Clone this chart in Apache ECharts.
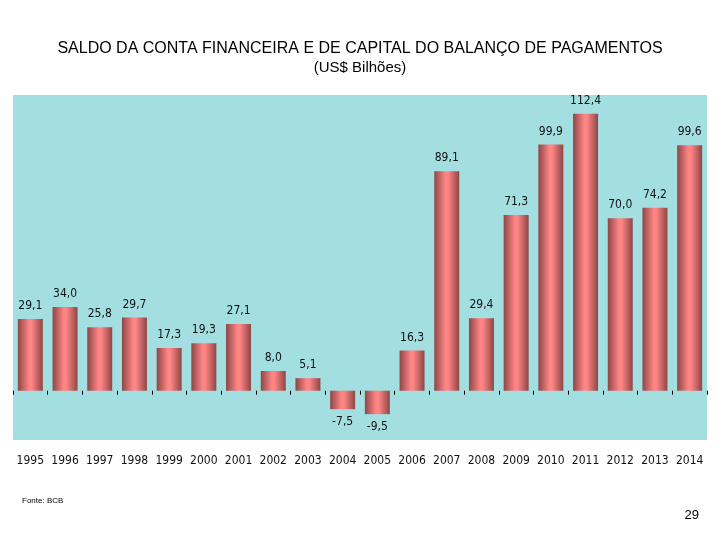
<!DOCTYPE html>
<html>
<head>
<meta charset="utf-8">
<script src="https://cdn.jsdelivr.net/npm/echarts@6/dist/echarts.min.js"></script>
<style>
html,body{margin:0;padding:0;background:#fff;}
#c{width:720px;height:540px;}
</style>
</head>
<body>
<div id="c"></div>
<script>
const years = ['1995','1996','1997','1998','1999','2000','2001','2002','2003','2004','2005','2006','2007','2008','2009','2010','2011','2012','2013','2014'];
const saldo = [29.1,34.0,25.8,29.7,17.3,19.3,27.1,8.0,5.1,-7.5,-9.5,16.3,89.1,29.4,71.3,99.9,112.4,70.0,74.2,99.6];
const titleText = 'SALDO DA CONTA FINANCEIRA E DE CAPITAL DO BALANÇO DE PAGAMENTOS';
const subtitleText = '(US$ Bilhões)';
const sourceText = 'Fonte: BCB';
const pageText = '29';

const narrow = '"DejaVu Sans Condensed", "Liberation Sans Narrow", "Liberation Sans", sans-serif';
const sans = '"Liberation Sans", Arial, sans-serif';
const chart = echarts.init(document.getElementById('c'));
const barColor = new echarts.graphic.LinearGradient(0,0,1,0,[
  {offset:0,color:'#8e4646'},
  {offset:0.45,color:'#ff8585'},
  {offset:0.55,color:'#ff8585'},
  {offset:1,color:'#8e4646'}
]);
chart.setOption({
  animation:false,
  backgroundColor:'#ffffff',
  title:[
    {text:titleText, left:'center', top:36, itemGap:3,
     textStyle:{fontFamily:sans, fontSize:16, fontWeight:'normal', color:'#000'},
     subtext:subtitleText,
     subtextStyle:{fontFamily:sans, fontSize:15, color:'#000'}},
    {text:sourceText, left:17, top:492,
     textStyle:{fontFamily:sans, fontSize:8, fontWeight:'normal', color:'#000'}},
    {text:pageText, right:16, top:504,
     textStyle:{fontFamily:sans, fontSize:13, fontWeight:'normal', color:'#000'}}
  ],
  grid:{left:13, right:13, top:95, bottom:100, show:true, backgroundColor:'#a3dfe0', borderWidth:0},
  xAxis:[
    {type:'category', data:years, position:'bottom',
     axisLine:{onZero:true, lineStyle:{color:'#a3dfe0'}},
     axisTick:{show:true, inside:false, length:4, interval:0, lineStyle:{color:'#000'}},
     axisLabel:{show:false}},
    {type:'category', data:years, position:'bottom',
     axisLine:{show:false, onZero:false}, axisTick:{show:false},
     axisLabel:{show:true, interval:0, margin:15, fontFamily:narrow, fontSize:12, color:'#111'}}
  ],
  yAxis:{type:'value', min:-20, max:120, show:false, splitLine:{show:false}},
  series:[{
    type:'bar', xAxisIndex:0, barWidth:'72%',
    data:saldo.map(v=>({value:v, label:{position: v<0 ? 'bottom' : 'top'}})),
    itemStyle:{color:barColor},
    label:{show:true, distance:7, fontFamily:narrow, fontSize:12, color:'#111',
      formatter:p=>p.value.toFixed(1).replace('.',',')}
  }]
});
</script>
</body>
</html>
